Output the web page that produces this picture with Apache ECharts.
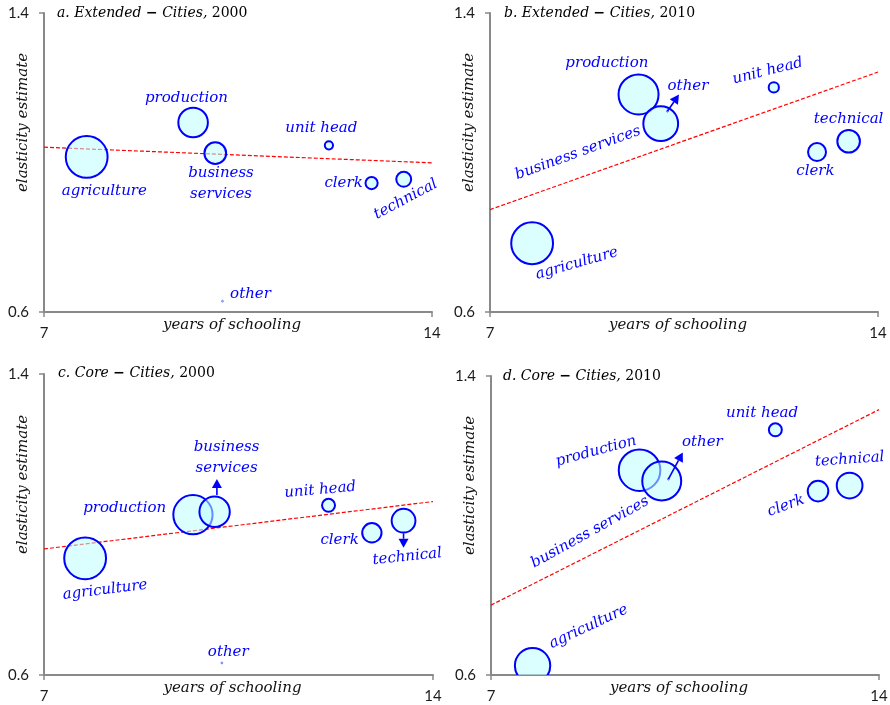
<!DOCTYPE html>
<html>
<head>
<meta charset="utf-8">
<script src="https://cdn.jsdelivr.net/npm/echarts@6/dist/echarts.min.js"></script>
<style>
html, body { margin: 0; padding: 0; background: #fff; }
#main { width: 890px; height: 705px; }
</style>
</head>
<body>
<div id="main"></div>
<script>
const occupations = ['agriculture', 'production', 'business services', 'unit head', 'clerk', 'technical', 'other'];
const panelTitles = ['a. Extended − Cities, 2000', 'b. Extended − Cities, 2010', 'c. Core − Cities, 2000', 'd. Core − Cities, 2010'];
const xTicks = [7, 14];
const yTicks = [0.6, 1.4];

// a. extended, 2000
const schoolingA = [7.77, 9.69, 10.09, 12.14, 12.91, 13.49, 10.22];
const elasticityA = [1.015, 1.107, 1.025, 1.046, 0.945, 0.955, 0.629];
const shareA = [52, 26, 14, 2, 4.4, 6.6, 0.1];
const trendA = [1.041, 0.999];

// b. extended, 2010
const schoolingB = [7.76, 9.68, 10.08, 12.12, 12.90, 13.47, 10.20];
const elasticityB = [0.784, 1.182, 1.104, 1.201, 1.028, 1.057, 1.137];
const shareB = [52, 47.6, 36, 3.1, 9.6, 15.2, 0.1];
const trendB = [0.874, 1.242];

// c. core, 2000
const schoolingC = [7.74, 9.68, 10.07, 12.12, 12.90, 13.47, 10.20];
const elasticityC = [0.910, 1.026, 1.034, 1.051, 0.978, 1.010, 0.632];
const shareC = [52, 45.8, 27.4, 5, 11.1, 16.8, 0.1];
const trendC = [0.935, 1.061];

// d. core, 2010
const schoolingD = [7.75, 9.68, 10.08, 12.13, 12.90, 13.47, 10.20];
const elasticityD = [0.625, 1.148, 1.119, 1.256, 1.092, 1.107, 1.124];
const shareD = [37.2, 51.4, 45.1, 5, 12.6, 19.7, 0.1];
const trendD = [0.787, 1.310];

// label placement: [dx, dy, rotate, two lines]
const labelPlaceA = [[17.6, 34, 0], [-6.6, -24, 0], [5.7, 30.7, 0, 1], [-7.6, -16.7, 0], [-28, 0, 0], [2, 20, 28], [28, -7, 0]];
const labelPlaceB = [[44.7, 20.3, 16], [-31.7, -31.7, 0], [-82.7, 29.4, 20], [-6, -16.3, 14], [-1.6, 19.3, 0], [0, -22, 0], [20.6, -25, 0]];
const labelPlaceC = [[20, 31.7, 7], [-68.3, -7, 0], [12, -53.7, 0, 1], [-8.3, -15.3, 5], [-32.3, 7, 0], [3.7, 36, 6], [6.4, -11.3, 0]];
const labelPlaceD = [[56, -39, 25], [-43.6, -19, 15], [-71.7, 51.3, 29], [-13.3, -16.4, 0], [-32, 14.7, 20], [0, -26, 4], [34, -36.7, 0]];

const arrowsA = [];
const arrowsB = [{ item: 6, from: [0, 0], to: [11.6, -16.7] }];
const arrowsC = [{ item: 2, from: [2.3, -16.7], to: [2.3, -32.7] }, { item: 5, from: [0, 12.6], to: [0, 27] }];
const arrowsD = [{ item: 6, from: [0, 0], to: [14.4, -26.7] }];

const panels = [
    { x: schoolingA, y: elasticityA, w: shareA, trend: trendA, place: labelPlaceA, arrows: arrowsA, grid: { left: 44, top: 13, width: 388, height: 299 }, title: { left: 57, top: 6 } },
    { x: schoolingB, y: elasticityB, w: shareB, trend: trendB, place: labelPlaceB, arrows: arrowsB, grid: { left: 490, top: 13, width: 388, height: 299 }, title: { left: 504, top: 6 } },
    { x: schoolingC, y: elasticityC, w: shareC, trend: trendC, place: labelPlaceC, arrows: arrowsC, grid: { left: 44, top: 374, width: 389, height: 301 }, title: { left: 58, top: 366 } },
    { x: schoolingD, y: elasticityD, w: shareD, trend: trendD, place: labelPlaceD, arrows: arrowsD, grid: { left: 491, top: 376, width: 388, height: 299 }, title: { left: 503, top: 369 } }
];

const axisGray = '#898989';
const serif = '"DejaVu Serif", serif';

function bubbleRadius(share) {
    return 2.9 * Math.sqrt(share);
}

function renderBubble(params, api) {
    let c = api.coord([api.value(0), api.value(1)]);
    let r = bubbleRadius(api.value(2));
    let tiny = r < 2;
    return {
        type: 'circle',
        shape: { cx: c[0], cy: c[1], r: r },
        style: {
            fill: 'rgba(190,255,255,0.55)',
            stroke: tiny ? 'rgba(40,40,255,0.6)' : '#0000ff',
            lineWidth: tiny ? 1 : 2
        }
    };
}

function labelRenderer(panel) {
    return function (params, api) {
        let i = params.dataIndex;
        let c = api.coord([api.value(0), api.value(1)]);
        let p = panel.place[i];
        let name = p[3] ? occupations[i].replace(' ', '\n') : occupations[i];
        let kids = [{
            type: 'text',
            x: c[0] + p[0],
            y: c[1] + p[1],
            rotation: p[2] * Math.PI / 180,
            style: {
                text: name,
                fill: '#0000ff',
                font: 'italic 15px ' + serif,
                textAlign: 'center',
                textVerticalAlign: 'middle',
                lineHeight: 21,
                textLineHeight: 21
            }
        }];
        // small arrows pointing out of hidden / overlapped markers
        panel.arrows.filter(a => a.item == i).forEach(a => {
            let x1 = c[0] + a.from[0], y1 = c[1] + a.from[1];
            let x2 = c[0] + a.to[0], y2 = c[1] + a.to[1];
            let len = Math.hypot(x2 - x1, y2 - y1);
            let ux = (x2 - x1) / len, uy = (y2 - y1) / len;
            let bx = x2 - ux * 9, by = y2 - uy * 9;
            kids.push({
                type: 'line',
                shape: { x1: x1, y1: y1, x2: bx, y2: by },
                style: { stroke: '#0000ff', lineWidth: 1.6 }
            });
            kids.push({
                type: 'polygon',
                shape: { points: [[x2, y2], [bx - uy * 5, by + ux * 5], [bx + uy * 5, by - ux * 5]] },
                style: { fill: '#0000ff' }
            });
        });
        return { type: 'group', children: kids };
    };
}

let grid = [], xAxis = [], yAxis = [], title = [], series = [];

panels.forEach((panel, gi) => {
    grid.push(Object.assign({ containLabel: false, outerBoundsMode: 'none' }, panel.grid));

    title.push({
        left: panel.title.left,
        top: panel.title.top,
        padding: 0,
        text: panelTitles[gi].replace(/^(.*) − (.*), (\d+)$/, '{i|$1} {d|−} {i|$2,} {n|$3}'),
        textStyle: {
            fontFamily: serif, fontSize: 14, fontWeight: 'normal', color: '#000',
            rich: {
                i: { fontFamily: serif, fontSize: 14, fontStyle: 'italic', fontWeight: 'normal', color: '#000' },
                d: { fontFamily: serif, fontSize: 14, fontStyle: 'normal', fontWeight: 'bold', color: '#000' },
                n: { fontFamily: serif, fontSize: 14, fontStyle: 'normal', fontWeight: 'normal', color: '#000' }
            }
        }
    });

    xAxis.push({
        gridIndex: gi,
        type: 'value',
        min: 7,
        max: 14,
        axisLine: { show: true, onZero: false, lineStyle: { color: axisGray, width: 2 } },
        axisTick: { show: true, length: 5, customValues: xTicks, lineStyle: { color: axisGray, width: 1.5 } },
        axisLabel: { customValues: xTicks, margin: 14, color: '#1a1a1a', fontFamily: 'Lato', fontSize: 15 },
        splitLine: { show: false },
        name: 'years of schooling',
        nameLocation: 'middle',
        nameGap: 6,
        nameMoveOverlap: false,
        nameTextStyle: { fontFamily: serif, fontStyle: 'italic', fontSize: 15, color: '#111', padding: [0, 12, 0, 0] }
    });

    yAxis.push({
        gridIndex: gi,
        type: 'value',
        min: 0.6,
        max: 1.4,
        axisLine: { show: true, onZero: false, lineStyle: { color: axisGray, width: 2 } },
        axisTick: { show: true, length: 5, customValues: yTicks, lineStyle: { color: axisGray, width: 1.5 } },
        axisLabel: { customValues: yTicks, margin: 15, color: '#1a1a1a', fontFamily: 'Lato', fontSize: 15, formatter: v => v.toFixed(1) },
        splitLine: { show: false },
        name: 'elasticity estimate',
        nameLocation: 'middle',
        nameGap: 13,
        nameMoveOverlap: false,
        nameTextStyle: { fontFamily: serif, fontStyle: 'italic', fontSize: 15, color: '#111', padding: [0, 0, 0, 80] }
    });

    let rows = panel.x.map((x, i) => [x, panel.y[i], panel.w[i]]);

    // red dashed fit line
    series.push({
        type: 'line',
        xAxisIndex: gi,
        yAxisIndex: gi,
        data: [[xTicks[0], panel.trend[0]], [xTicks[1], panel.trend[1]]],
        symbol: 'none',
        silent: true,
        z: 1,
        lineStyle: { color: '#ff0000', width: 1.2, type: [4, 2] }
    });

    series.push({
        type: 'custom',
        xAxisIndex: gi,
        yAxisIndex: gi,
        clip: true,
        z: 3,
        silent: true,
        data: rows,
        renderItem: renderBubble
    });

    series.push({
        type: 'custom',
        xAxisIndex: gi,
        yAxisIndex: gi,
        clip: false,
        z: 5,
        silent: true,
        data: rows,
        renderItem: labelRenderer(panel)
    });
});

let chart = echarts.init(document.getElementById('main'), null, { renderer: 'canvas' });
chart.setOption({
    animation: false,
    backgroundColor: '#fff',
    title,
    grid,
    xAxis,
    yAxis,
    series
});
</script>
</body>
</html>
